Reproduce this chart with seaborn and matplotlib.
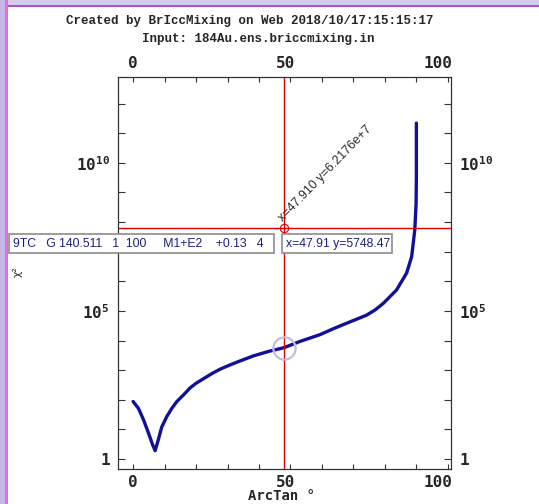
import numpy as np
import pandas as pd
import matplotlib
matplotlib.use("Agg")
import matplotlib.pyplot as plt
import matplotlib.transforms as mtrans
from matplotlib.patches import Rectangle
from matplotlib.ticker import FixedLocator, FuncFormatter
import seaborn as sns

# chi^2 vs arctan(delta)
arctan_deg = [0, 1.7, 3.3, 4.9, 6.2, 7.0, 8.0, 9.1, 10.7, 12.3, 13.9, 16.0, 18.1,
              20.0, 22.2, 25.0, 27.6, 30.0, 33.0, 38.2, 43.0, 48.0, 53.0, 59.4,
              63.6, 69.0, 74.2, 77.0, 79.5, 83.7, 86.9, 88.5, 89.5, 89.9, 90.0,
              90.0, 90.0]
chi2 = [87, 51, 21, 7.4, 3.0, 1.9, 4.4, 12, 27, 51, 87, 145, 250,
        360, 500, 760, 1070, 1380, 1860, 3020, 4270, 5750, 9300, 15800,
        25000, 43000, 72000, 1.1e5, 1.8e5, 5.1e5, 1.9e6, 6.8e6, 5.5e7, 4e8, 3.2e9,
        3.2e10, 2.2e11]

cursor_x = 47.91
cursor_y = 6.2176e7
point_y = 5748.47

title1 = "Created by BrIccMixing on Web 2018/10/17:15:15:17"
title2 = "Input: 184Au.ens.briccmixing.in"
info_text = "9TC   G 140.511   1  100     M1+E2    +0.13   4"
point_text = "x=47.91 y=5748.47"
x_ticks = [0, 10, 20, 30, 40, 50, 60, 70, 80, 90, 100]
x_labels = {0: "0", 50: "50", 100: "100"}
y_decades = list(range(0, 13))

df = pd.DataFrame({"arctan": arctan_deg, "chi2": chi2})

sns.set_style("white")
plt.rcParams["font.family"] = ["DejaVu Sans"]

W, H = 539, 504
fig = plt.figure(figsize=(W / 100, H / 100), dpi=100)


def px(x, y):
    return x / W, 1 - y / H


ax = fig.add_axes([118 / W, 1 - 469 / H, 333 / W, 392 / H])
sns.lineplot(data=df, x="arctan", y="chi2", ax=ax, color="#10109a", lw=2.4,
             estimator=None, sort=False)
ax.set_yscale("log")
ax.set_xlim(-4.8, 101)
ax.set_ylim(10 ** -0.34, 10 ** 12.9)
ax.set_xlabel("")
ax.set_ylabel("")

# cursor crosshair
ax.axvline(cursor_x, color="#e00000", lw=1)
ax.axhline(cursor_y, color="#e00000", lw=1)
ax.plot([cursor_x], [cursor_y], "o", mfc="none", mec="#e00000", ms=6, mew=0.8)
ax.plot([cursor_x], [point_y], "o", mfc="none", mec="#c4bce0", ms=16, mew=1.6)
ax.annotate("x=47.910 y=6.2176e+7", (cursor_x, cursor_y), xytext=(1, 3),
            textcoords="offset points", rotation=46, rotation_mode="anchor",
            ha="left", va="bottom", fontsize=9, color="#2a2a2a",
            family="Liberation Sans")

# ticks
tick_font = dict(family="DejaVu Sans Mono", weight="bold", size=11.5)
ax.xaxis.set_major_locator(FixedLocator(x_ticks))
ax.xaxis.set_major_formatter(FuncFormatter(lambda v, p: x_labels.get(int(round(v)), "")))
ax.yaxis.set_major_locator(FixedLocator([10.0 ** d for d in y_decades]))
ax.yaxis.set_minor_locator(FixedLocator([]))


def yfmt(v, p):
    e = int(round(np.log10(v)))
    if e == 0:
        return "1"
    if e % 5 == 0:
        return r"$\mathregular{10^{%d}}$" % e
    return ""


ax.yaxis.set_major_formatter(FuncFormatter(yfmt))
ax.tick_params(axis="x", which="major", direction="in", length=3.5, width=0.8,
               top=True, labeltop=True, bottom=True, labelbottom=True,
               pad=4, color="#333333")
ax.tick_params(axis="y", which="major", direction="in", length=5, width=0.8,
               left=True, right=True, labelleft=True, labelright=True,
               pad=6, color="#333333")
for t in ax.xaxis.get_major_ticks():
    for lab in (t.label1, t.label2):
        lab.set_fontfamily(tick_font["family"])
        lab.set_fontweight(tick_font["weight"])
        lab.set_fontsize(tick_font["size"])
        lab.set_ha("right")
        lab.set_transform(lab.get_transform() +
                          mtrans.ScaledTranslation(4.5 / 100, 0, fig.dpi_scale_trans))
for t in ax.yaxis.get_major_ticks():
    for lab in (t.label1, t.label2):
        lab.set_fontfamily(tick_font["family"])
        lab.set_fontweight(tick_font["weight"])
        lab.set_fontsize(tick_font["size"])

for s in ax.spines.values():
    s.set_color("#333333")
    s.set_linewidth(0.9)

# titles and axis labels
fig.text(*px(250, 21), title1, ha="center", va="center",
         family="Liberation Mono", weight="bold", size=9)
fig.text(*px(258, 39), title2, ha="center", va="center",
         family="Liberation Mono", weight="bold", size=9)
fig.text(*px(282, 496), "ArcTan °", ha="center", va="center",
         family="DejaVu Sans Mono", weight="bold", size=10)
fig.text(*px(18, 272), "χ²", ha="center", va="center", rotation=90,
         size=8, color="#333333")

# info boxes
for (x0, x1), txt in [((9, 274), info_text), ((282, 392), point_text)]:
    fig.patches.append(Rectangle(px(x0, 253), (x1 - x0) / W, 19 / H,
                                 transform=fig.transFigure, facecolor="white",
                                 edgecolor="#8c8c8c", lw=1.2, zorder=5))
    fig.text(*px(x0 + 4, 243.5), txt, ha="left", va="center", size=8.8,
             family="Liberation Sans", color="#1e1e80", zorder=6)

# window frame
fig.patches.append(Rectangle((0, 1 - 5 / H), 1, 5 / H, transform=fig.transFigure,
                             facecolor="#d6cdec", edgecolor="none", zorder=7))
fig.patches.append(Rectangle((0, 1 - 7 / H), 1, 2 / H, transform=fig.transFigure,
                             facecolor="#b050c0", edgecolor="none", zorder=7))
fig.patches.append(Rectangle((0, 0), 5 / W, 1, transform=fig.transFigure,
                             facecolor="#c8b8e8", edgecolor="none", zorder=7))
fig.patches.append(Rectangle((5 / W, 0), 2.5 / W, 1, transform=fig.transFigure,
                             facecolor="#e070e0", edgecolor="none", zorder=7))

fig.savefig("out.png", dpi=100)
